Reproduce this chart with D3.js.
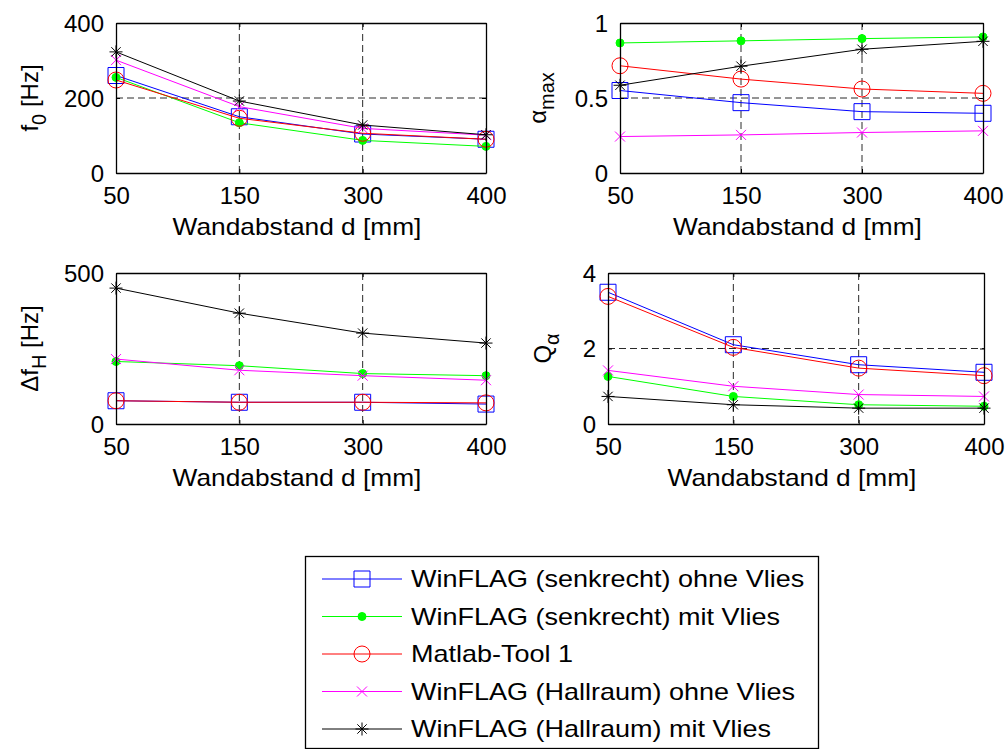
<!DOCTYPE html>
<html>
<head>
<meta charset="utf-8">
<script src="https://cdn.jsdelivr.net/npm/d3@7"></script>
<style>
  html, body { margin: 0; padding: 0; background: #fff; }
  svg { display: block; }
  text { font-family: "Liberation Sans", Arial, Helvetica, sans-serif; fill: #000; }
</style>
</head>
<body>
<svg id="chart" width="1008" height="749"></svg>
<script>
// Wall distances (categorical x axis, equally spaced)
const distances = ["50", "150", "300", "400"];

const seriesNames = [
  "WinFLAG (senkrecht) ohne Vlies",
  "WinFLAG (senkrecht) mit Vlies",
  "Matlab-Tool 1",
  "WinFLAG (Hallraum) ohne Vlies",
  "WinFLAG (Hallraum) mit Vlies"
];
const seriesColors = ["#0000ff", "#00ff00", "#ff0000", "#ff00ff", "#000000"];
const seriesMarkers = ["square", "dot", "circle", "times", "star"];

// Resonance frequency f0 [Hz], one row per series
const f0Values = [
  [260, 150, 104, 90],
  [255, 134, 87, 71],
  [248, 146, 106, 90],
  [301, 177, 119, 101],
  [323, 192, 128, 102]
];
// Maximum absorption coefficient
const alphaMaxValues = [
  [0.55, 0.469, 0.409, 0.398],
  [0.867, 0.881, 0.896, 0.907],
  [0.715, 0.626, 0.56, 0.531],
  [0.243, 0.254, 0.27, 0.281],
  [0.585, 0.712, 0.825, 0.878]
];
// Half-power bandwidth [Hz]
const bandwidthValues = [
  [77, 72, 72, 66],
  [207, 193, 167, 160],
  [77, 72, 72, 70],
  [215, 178, 160, 145],
  [450, 367, 301, 268]
];
// Quality factor
const qValues = [
  [3.49, 2.10, 1.57, 1.37],
  [1.26, 0.73, 0.51, 0.47],
  [3.38, 2.03, 1.48, 1.28],
  [1.42, 1.00, 0.78, 0.73],
  [0.73, 0.51, 0.42, 0.42]
];

const f0Ticks = [0, 200, 400];
const alphaTicks = [0, 0.5, 1];
const bandwidthTicks = [0, 500];
const bandwidthGrid = [];
const qTicks = [0, 2, 4];

const xLabel = "Wandabstand d [mm]";

const svg = d3.select("#chart");

// Widen a text element horizontally (the plot font runs a bit wider than Arial)
function stretch(sel, factor) {
  sel.each(function () {
    const len = this.getComputedTextLength();
    d3.select(this).attr("textLength", len * factor).attr("lengthAdjust", "spacingAndGlyphs");
  });
}

const panels = [
  { values: f0Values, ticks: f0Ticks, grid: [200], domain: [0, 400],
    box: { left: 116, right: 486, top: 23, bottom: 173 },
    ylabel: [["f", 0], ["0", 1], [" [Hz]", 0]], ylabelX: 38 },
  { values: alphaMaxValues, ticks: alphaTicks, grid: [0.5], domain: [0, 1],
    box: { left: 620, right: 983, top: 23, bottom: 173 },
    ylabel: [["\u03b1", 0], ["max", 1]], ylabelX: 546 },
  { values: bandwidthValues, ticks: bandwidthTicks, grid: bandwidthGrid, domain: [0, 500],
    box: { left: 116, right: 486, top: 273, bottom: 424 },
    ylabel: [["\u0394f", 0], ["H", 1], [" [Hz]", 0]], ylabelX: 38 },
  { values: qValues, ticks: qTicks, grid: [2], domain: [0, 4],
    box: { left: 608, right: 984, top: 273, bottom: 424 },
    ylabel: [["Q", 0], ["\u03b1", 1]], ylabelX: 551 }
];

// Marker shapes as custom d3 symbol types
const markerTypes = {
  square: { draw(ctx, size) { const h = Math.sqrt(size) / 2; ctx.rect(-h, -h, 2 * h, 2 * h); } },
  circle: { draw(ctx, size) { const r = Math.sqrt(size) / 2; ctx.moveTo(r, 0); ctx.arc(0, 0, r, 0, 2 * Math.PI); } },
  dot: { draw(ctx, size) { const r = Math.sqrt(size) / 2; ctx.moveTo(r, 0); ctx.arc(0, 0, r, 0, 2 * Math.PI); } },
  times: { draw(ctx, size) { const h = Math.sqrt(size) / 2; ctx.moveTo(-h, -h); ctx.lineTo(h, h); ctx.moveTo(-h, h); ctx.lineTo(h, -h); } },
  star: { draw(ctx, size) {
    const h = Math.sqrt(size) / 2, d = h * 0.72;
    ctx.moveTo(-h, 0); ctx.lineTo(h, 0); ctx.moveTo(0, -h); ctx.lineTo(0, h);
    ctx.moveTo(-d, -d); ctx.lineTo(d, d); ctx.moveTo(-d, d); ctx.lineTo(d, -d);
  } }
};
const markerSizes = { square: 16 * 16, circle: 16 * 16, dot: 8 * 8, times: 10 * 10, star: 13 * 13 };

function drawMarker(g, kind, color, x, y) {
  const filled = kind === "dot";
  g.append("path")
    .attr("transform", `translate(${x},${y})`)
    .attr("d", d3.symbol().type(markerTypes[kind]).size(markerSizes[kind])())
    .attr("fill", filled ? color : "none")
    .attr("stroke", color)
    .attr("stroke-width", 1);
}

panels.forEach(p => {
  const b = p.box;
  const x = d3.scalePoint().domain(distances).range([b.left, b.right]).padding(0);
  const y = d3.scaleLinear().domain(p.domain).range([b.bottom, b.top]);
  const g = svg.append("g");

  // dashed grid at interior ticks
  const grid = g.append("g").attr("stroke", "#2a2a2a").attr("stroke-width", 1)
    .attr("stroke-dasharray", "7,4");
  distances.slice(1, -1).forEach(d => {
    grid.append("line").attr("x1", x(d)).attr("x2", x(d)).attr("y1", b.top).attr("y2", b.bottom);
  });
  p.grid.forEach(v => {
    grid.append("line").attr("x1", b.left).attr("x2", b.right).attr("y1", y(v)).attr("y2", y(v));
  });

  // series lines and markers
  p.values.forEach((vals, i) => {
    const line = d3.line().x((v, j) => x(distances[j])).y(v => y(v));
    g.append("path").attr("d", line(vals)).attr("fill", "none")
      .attr("stroke", seriesColors[i]).attr("stroke-width", 1);
    vals.forEach((v, j) => drawMarker(g, seriesMarkers[i], seriesColors[i], x(distances[j]), y(v)));
  });

  // axes with inward ticks on all four sides
  const tickLen = 4;
  const axB = g.append("g").attr("transform", `translate(0,${b.bottom})`)
    .call(d3.axisBottom(x).tickSizeInner(-tickLen).tickSizeOuter(0).tickPadding(10));
  const axT = g.append("g").attr("transform", `translate(0,${b.top})`)
    .call(d3.axisTop(x).tickSizeInner(-tickLen).tickSizeOuter(0).tickFormat(""));
  const axL = g.append("g").attr("transform", `translate(${b.left},0)`)
    .call(d3.axisLeft(y).tickValues(p.ticks).tickSizeInner(-tickLen).tickSizeOuter(0)
      .tickPadding(12).tickFormat(d3.format("~g")));
  const axR = g.append("g").attr("transform", `translate(${b.right},0)`)
    .call(d3.axisRight(y).tickValues(p.ticks).tickSizeInner(-tickLen).tickSizeOuter(0).tickFormat(""));
  [axB, axT, axL, axR].forEach(a => {
    a.attr("font-size", null).attr("font-family", null);
    a.selectAll("path").attr("stroke", "#000").attr("stroke-width", 1.3);
    a.selectAll("line").attr("stroke", "#000");
    a.selectAll("text").attr("font-size", 24).attr("fill", "#000");
  });
  axB.selectAll("text").attr("dy", null).attr("y", 31);
  axL.selectAll("text").attr("dy", "0.35em");

  // x axis title
  g.append("text").attr("x", (b.left + b.right) / 2 - 4).attr("y", b.bottom + 62)
    .attr("text-anchor", "middle").attr("font-size", 24).text(xLabel)
    .call(stretch, 1.095);

  // y axis title (rotated, with subscript)
  const yc = (b.top + b.bottom) / 2;
  const yl = g.append("text")
    .attr("transform", `translate(${p.ylabelX},${yc}) rotate(-90)`)
    .attr("text-anchor", "middle").attr("font-size", 24);
  let shift = 0;
  p.ylabel.forEach(([t, sub]) => {
    const target = sub ? 8 : 0;
    yl.append("tspan").attr("dy", target - shift).attr("font-size", sub ? 20 : 24).text(t);
    shift = target;
  });
});

// legend
const legend = svg.append("g");
legend.append("rect").attr("x", 305.5).attr("y", 556.5).attr("width", 513).attr("height", 192)
  .attr("fill", "#fff").attr("stroke", "#000").attr("stroke-width", 1.3);
const rowY = d3.scalePoint().domain(seriesNames).range([579, 729]);
seriesNames.forEach((name, i) => {
  const yy = rowY(name);
  legend.append("line").attr("x1", 322).attr("x2", 402).attr("y1", yy).attr("y2", yy)
    .attr("stroke", seriesColors[i]).attr("stroke-width", 1);
  drawMarker(legend, seriesMarkers[i], seriesColors[i], 362, yy);
  legend.append("text").attr("x", 411).attr("y", yy).attr("dy", "0.35em")
    .attr("font-size", 24).text(name)
    .call(stretch, 1.125);
});
</script>
</body>
</html>
